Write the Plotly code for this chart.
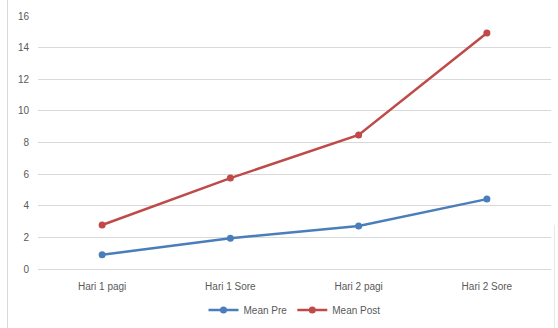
import plotly.graph_objects as go

categories = ["Hari 1 pagi", "Hari 1 Sore", "Hari 2 pagi", "Hari 2 Sore"]
mean_pre = [0.9, 1.95, 2.72, 4.42]
mean_post = [2.78, 5.75, 8.48, 14.92]
y_ticks = [0, 2, 4, 6, 8, 10, 12, 14, 16]

BLUE = "#4A7EBB"
RED = "#BE4B48"
TEXT = "#595959"
GRID = "#D9D9D9"
FONT = "Liberation Sans, Arial, sans-serif"

fig = go.Figure()
fig.add_trace(go.Scatter(
    x=categories, y=mean_pre, name="Mean Pre", mode="lines+markers",
    line=dict(color=BLUE, width=2.5), marker=dict(color=BLUE, size=7),
))
fig.add_trace(go.Scatter(
    x=categories, y=mean_post, name="Mean Post", mode="lines+markers",
    line=dict(color=RED, width=2.5), marker=dict(color=RED, size=7),
))

W, H = 558, 328
L, R, T, B = 38, 7, 16, 59
pw = W - L - R
ph = H - T - B

fig.update_layout(
    width=W, height=H,
    margin=dict(l=L, r=R, t=T, b=B, autoexpand=False),
    paper_bgcolor="white", plot_bgcolor="white",
    font=dict(family=FONT, size=10, color=TEXT),
    showlegend=True,
    legend=dict(orientation="h", x=0.5, xanchor="center",
                yref="container", y=18 / H, yanchor="middle",
                font=dict(size=10, color=TEXT), itemwidth=30, tracegroupgap=0),
    xaxis=dict(type="category", range=[-0.5, 3.5], showgrid=False, zeroline=False,
               showline=False, ticks="", ticklabelstandoff=10,
               tickfont=dict(size=10, color=TEXT)),
    yaxis=dict(range=[0, 16], tickvals=y_ticks, showgrid=True, gridcolor=GRID,
               gridwidth=1, zeroline=True, zerolinecolor=GRID, zerolinewidth=1,
               showline=False, ticks="", ticklabelstandoff=8,
               tickfont=dict(size=10, color=TEXT)),
    shapes=[
        dict(type="line", xref="paper", yref="paper",
             x0=(7.5 - L) / pw, x1=(7.5 - L) / pw, y0=-B / ph, y1=1 + T / ph,
             line=dict(color=GRID, width=1)),
        dict(type="line", xref="paper", yref="paper",
             x0=(554.5 - L) / pw, x1=(554.5 - L) / pw,
             y0=-B / ph, y1=(H - B - 225) / ph,
             line=dict(color="#E8E8E8", width=1)),
    ],
)

fig.write_html("out.html")
